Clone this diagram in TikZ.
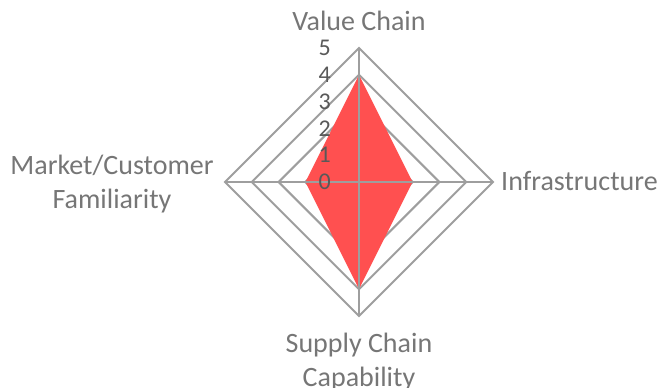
\documentclass[tikz,border=0pt]{standalone}
\usepackage{fontspec}
\setmainfont{Carlito}
\usetikzlibrary{positioning}
\definecolor{gridgray}{RGB}{158,158,158}
\definecolor{labelgray}{RGB}{118,118,118}
\definecolor{tickgray}{RGB}{89,89,89}
\definecolor{datared}{RGB}{255,80,80}

\begin{document}
\begin{tikzpicture}[x=1pt,y=1pt]
  \tikzstyle{grid}=[draw=gridgray,line width=2pt,line join=miter]
  \tikzstyle{axis label}=[text=labelgray,inner sep=0pt,align=center,
                          font=\fontsize{28}{34}\selectfont]
  \tikzstyle{tick label}=[text=tickgray,inner sep=0pt,anchor=east,
                          font=\fontsize{24}{24}\selectfont]

  \useasboundingbox (-359,-206) rectangle (303,182);

  \coordinate (c) at (0,0);
  \coordinate (N) at (0,134);
  \coordinate (E) at (134,0);
  \coordinate (S) at (0,-134);
  \coordinate (W) at (-134,0);

  % rings
  \foreach \r in {1,...,5}
    \draw[grid] (0,\r*26.8) -- (\r*26.8,0) -- (0,-\r*26.8) -- (-\r*26.8,0) -- cycle;

  % data
  \fill[datared] (0,107.2) -- (53.6,0) -- (0,-107.2) -- (-53.6,0) -- cycle;

  % axes
  \draw[grid] (N) -- (S);
  \draw[grid] (W) -- (E);

  % scale
  \foreach \v in {0,...,5}
    \node[tick label] (t\v) at (-28,\v*26.8) {\v};

  % categories
  \node[axis label,anchor=base] (vc) at (0,151) {Value Chain};
  \node[axis label,anchor=base west] (inf) at (142,-9) {Infrastructure};
  \node[axis label,anchor=base] (mcf) at (-247,-27) {Market/Customer\\Familiarity};
  \node[axis label,anchor=base] (scc) at (0,-204) {Supply Chain\\Capability};
\end{tikzpicture}
\end{document}
